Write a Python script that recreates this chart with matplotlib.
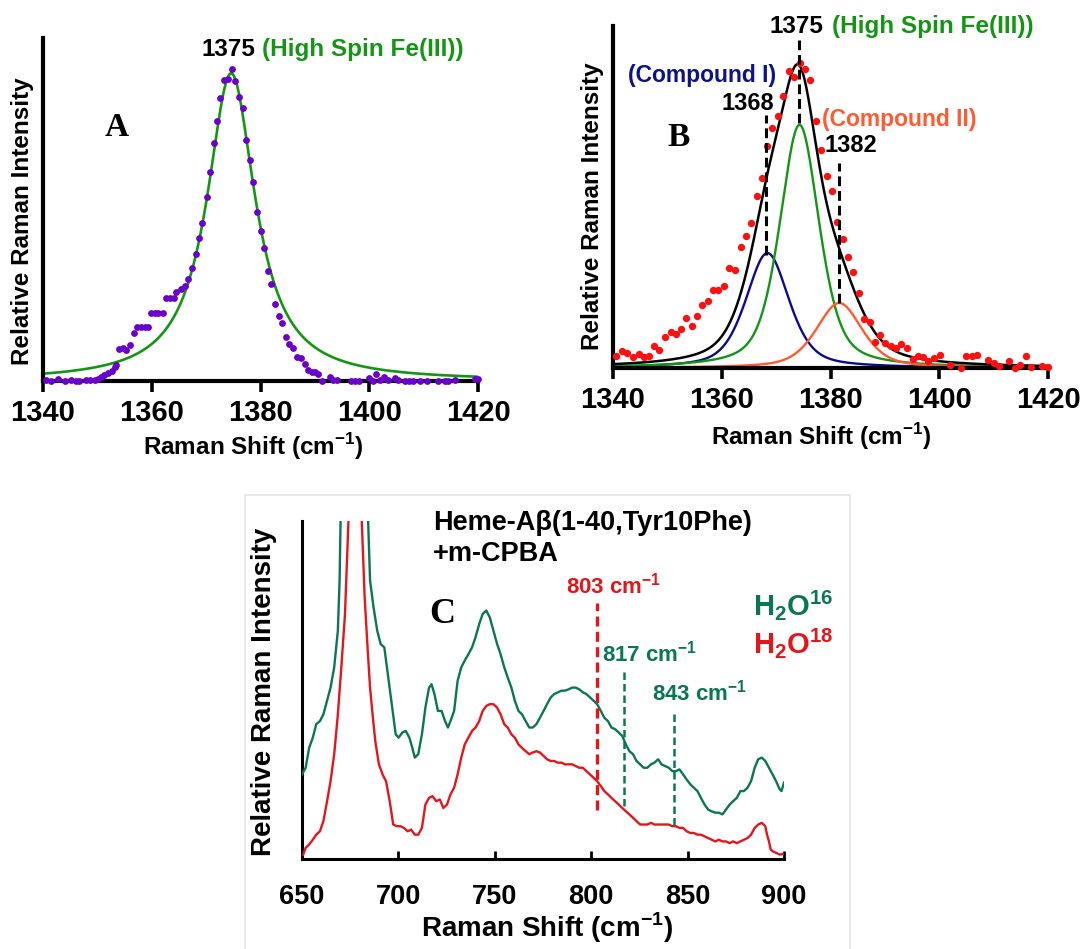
import matplotlib
matplotlib.use('Agg')
import matplotlib.pyplot as plt
import numpy as np
from matplotlib.patches import Rectangle

plt.rcParams['font.family'] = ['Liberation Sans', 'DejaVu Sans']
plt.rcParams['font.weight'] = 'bold'
plt.rcParams['mathtext.fontset'] = 'custom'
plt.rcParams['mathtext.rm'] = 'Liberation Sans'
plt.rcParams['mathtext.bf'] = 'Liberation Sans:bold'

# ---------------- Panel A data ----------------
A_shift = [1340.6,1341.5,1342.8,1344.0,1345.2,1346.1,1346.7,1347.9,1348.6,1349.5,
           1350.1,1350.7,1351.3,1352.0,1352.6,1353.2,1353.5,1353.9,1354.7,1355.3,
           1356.0,1356.7,1357.3,1358.1,1358.7,1359.3,1359.9,1360.6,1361.2,1362.1,
           1362.7,1363.3,1364.0,1364.5,1365.3,1366.1,1366.7,1367.4,1368.1,1368.7,
           1369.3,1370.1,1370.7,1371.4,1372.0,1372.6,1373.3,1374.0,1374.7,1375.4,
           1376.0,1376.8,1377.4,1378.0,1378.7,1379.3,1380.0,1380.7,1381.3,1382.0,
           1382.6,1383.4,1384.0,1384.7,1385.3,1385.9,1386.8,1387.5,1388.2,1388.8,
           1389.4,1390.0,1390.6,1391.4,1392.8,1393.4,1394.1,1396.7,1397.4,1398.2,
           1400.0,1400.6,1401.3,1402.0,1402.7,1403.4,1404.7,1405.3,1406.6,1407.4,
           1408.1,1409.3,1410.6,1412.7,1413.9,1414.5,1415.8,1419.5,1420.0]
A_int = [.003,0,.006,0,.003,0,0,.003,.003,.003,
         .005,.012,.019,.025,.033,.044,.051,.103,.105,.099,
         .115,.153,.172,.174,.174,.174,.217,.217,.219,.219,
         .265,.265,.265,.286,.294,.304,.326,.361,.407,.459,
         .507,.588,.671,.764,.834,.906,.963,.967,1.0,.962,
         .911,.874,.772,.708,.637,.543,.481,.427,.354,.310,
         .247,.209,.187,.140,.118,.105,.078,.073,.054,.035,
         .030,.030,.021,.001,.014,.003,.003,0,0,0,
         .009,.001,.021,.003,.014,.003,.009,.003,0,0,
         0,.001,0,0,0,0,.003,.005,.005]
# Lorentzian fit (amplitude, centre, half width, lorentz fraction)
A_fit = [0.986, 1374.6, 5.4, 1.0]

# ---------------- Panel B data ----------------
B_shift = [1340.6,1341.7,1342.6,1343.7,1344.7,1345.7,1346.6,1347.6,1348.5,1349.5,
           1350.6,1351.5,1352.5,1353.5,1354.5,1355.5,1356.4,1357.4,1358.4,1359.3,
           1360.4,1361.4,1362.4,1363.5,1364.4,1365.4,1366.4,1367.4,1368.4,1369.3,
           1370.3,1371.3,1372.3,1373.3,1374.3,1375.3,1376.2,1377.3,1378.2,1379.3,
           1380.2,1381.2,1382.3,1383.2,1384.2,1385.2,1386.2,1387.2,1388.2,1389.1,
           1390.1,1391.1,1392.0,1393.0,1394.1,1395.1,1396.1,1397.1,1398.0,1399.1,
           1400.1,1402.0,1404.0,1405.0,1406.0,1407.0,1408.9,1410.0,1410.9,1412.9,
           1414.0,1414.9,1415.9,1416.9,1418.9,1420.0]
B_int = [.038,.054,.049,.036,.045,.036,.040,.070,.059,.101,
         .117,.111,.126,.162,.135,.168,.203,.219,.252,.252,
         .267,.326,.317,.392,.427,.472,.557,.618,.719,.778,
         .819,.884,.965,.946,.991,.970,.935,.803,.706,.624,
         .574,.475,.418,.359,.310,.243,.159,.150,.086,.106,
         .081,.070,.065,.078,.065,.030,.038,.036,.024,.032,
         .041,.009,.0,.038,.038,.043,.025,.016,.005,.024,
         0,.011,.038,.002,.005,.002]
# fitted components: amplitude, centre, half width, lorentz fraction
B_comp_names = ['Compound I', 'High Spin Fe(III)', 'Compound II']
B_comp_amp = [0.373, 0.789, 0.211]
B_comp_cen = [1368.4, 1374.3, 1381.6]
B_comp_hw = [4.7, 4.3, 5.0]
B_comp_eta = [0.5, 0.5, 0.5]
B_comp_colors = ['#0b0b8f', '#149614', '#ff5a32']
B_marks = [1368, 1375, 1382]

# ---------------- Panel C data ----------------
C16_shift = [650.0,651.9,653.7,655.6,657.4,659.3,661.1,663.0,664.8,666.7,668.6,669.5,670.0,671.0,683.3,684.3,
             685.3,687.1,689.0,690.8,692.7,693.6,695.5,697.3,698.6,700.1,702.0,703.8,705.7,707.2,708.5,710.3,
             712.2,714.0,715.9,717.2,718.7,720.5,722.4,724.2,725.7,727.0,728.9,
             730.7,732.6,734.4,736.3,738.2,740.0,741.9,743.7,745.6,747.4,749.3,751.2,753.0,754.9,756.7,758.6,
             760.4,762.3,764.1,766.0,767.9,769.7,771.6,773.4,775.3,777.1,779.0,780.8,782.7,784.6,786.4,788.3,
             790.1,792.0,793.8,795.7,797.5,799.4,801.3,803.1,805.0,806.8,808.7,810.5,812.4,814.3,816.1,818.0,
             819.8,821.7,823.5,825.4,827.2,829.1,831.0,832.8,834.7,836.5,838.4,840.2,842.1,843.9,845.8,847.7,
             849.5,851.4,853.2,855.1,856.9,858.8,860.7,862.5,864.4,866.2,868.1,869.9,871.8,873.6,875.5,877.4,
             879.2,881.1,882.9,884.8,886.6,888.5,890.3,892.2,894.1,895.9,897.8,898.7,900.0]
C16_int = [.250,.270,.329,.359,.399,.408,.428,.468,.507,.567,.676,.824,1.0,1.6,1.6,1.0,
           .824,.745,.676,.636,.626,.587,.507,.428,.369,.359,.374,.379,.359,.329,.300,.310,
           .369,.448,.507,.517,.488,.438,.438,.408,.389,.408,.438,
           .527,.567,.587,.606,.626,.656,.695,.725,.735,.715,.676,.636,.606,.567,.537,.507,
           .468,.438,.428,.408,.389,.389,.399,.418,.438,.458,.478,.488,.493,.498,.498,.502,
           .507,.507,.502,.493,.488,.478,.468,.458,.438,.418,.408,.389,.384,.374,.364,.339,
           .319,.310,.290,.280,.270,.270,.280,.285,.295,.280,.275,.270,.260,.260,.265,.250,
           .235,.221,.211,.201,.181,.161,.146,.141,.137,.137,.132,.146,.161,.171,.181,.201,
           .201,.211,.230,.270,.295,.300,.290,.270,.250,.230,.206,.201,.226]
C18_shift = [650.6,651.9,653.7,655.6,657.4,659.3,661.1,663.0,664.8,666.7,668.6,670.4,672.3,674.1,675.0,680.2,
             681.0,682.5,684.0,685.3,686.6,688.0,689.9,691.8,693.6,695.5,697.3,699.2,701.0,702.9,704.8,706.6,
             708.5,710.3,712.2,714.0,715.9,717.7,719.6,721.5,723.3,725.2,727.0,728.9,730.7,732.6,734.4,736.3,
             738.2,740.0,741.9,743.7,745.6,747.4,749.3,751.2,753.0,754.9,756.7,758.6,760.4,762.3,764.1,766.0,
             767.9,769.7,771.6,773.4,775.3,777.1,779.0,780.8,782.7,784.6,786.4,788.3,790.1,792.0,793.8,795.7,
             797.5,799.4,801.3,803.1,805.0,806.8,808.7,810.5,812.4,814.3,816.1,818.0,819.8,821.7,823.5,825.4,
             827.2,829.1,831.0,832.8,834.7,836.5,838.4,840.2,842.1,843.9,845.8,847.7,849.5,851.4,853.2,855.1,
             856.9,858.8,860.7,862.5,864.4,866.2,868.1,869.9,871.8,873.6,875.5,877.4,879.2,881.1,882.9,884.8,
             886.6,888.5,890.3,891.2,892.2,893.1,894.1,895.9,897.8,899.6]
C18_int = [.013,.033,.043,.057,.072,.082,.112,.171,.230,.310,.428,.567,.725,1.0,1.6,1.6,
           1.0,.774,.626,.507,.428,.349,.280,.250,.230,.171,.102,.097,.097,.092,.082,.087,
           .072,.072,.092,.161,.181,.186,.171,.176,.151,.161,.191,.211,.250,.300,.339,.359,
           .379,.389,.408,.438,.453,.458,.458,.448,.428,.399,.389,.369,.359,.339,.329,.319,
           .310,.315,.319,.315,.305,.295,.290,.290,.285,.285,.280,.280,.280,.275,.270,.270,
           .260,.250,.240,.230,.216,.201,.191,.181,.171,.161,.151,.141,.132,.122,.112,.102,
           .102,.102,.107,.102,.102,.102,.102,.102,.097,.097,.092,.092,.082,.077,.077,.072,
           .072,.067,.062,.057,.052,.057,.052,.052,.047,.052,.047,.052,.057,.062,.072,.092,
           .102,.107,.097,.072,.052,.028,.023,.018,.013,.015]
C_marks = [803, 817, 843]
C_mark_ranges = [(.145, .756), (.157, .562), (.102, .433)]

GREEN = '#149614'
TEAL = '#0a7656'
RED_C = '#e3161c'


def pvoigt(x, amp, cen, hw, eta):
    d = (x - cen) / hw
    return amp * (eta / (1 + d ** 2) + (1 - eta) * np.exp(-np.log(2) * d ** 2))


W, H = 1086, 949
fig = plt.figure(figsize=(W / 100, H / 100), dpi=100)


def axrect(l, t, r, b):
    return [l / W, 1 - b / H, (r - l) / W, (b - t) / H]


def ftext(x, y, s, **kw):
    return fig.text(x / W, 1 - y / H, s, **kw)


axA = fig.add_axes(axrect(43, 38, 478, 381))
axB = fig.add_axes(axrect(613, 26, 1048, 368))
axC = fig.add_axes(axrect(302, 521, 784, 859))

for ax in (axA, axB):
    ax.set_xlim(1340, 1420)
    ax.spines[['top', 'right']].set_visible(False)
    for s in ('left', 'bottom'):
        ax.spines[s].set_linewidth(3)
    ax.set_yticks([])
    ax.set_xticks([1340, 1360, 1380, 1400, 1420])
    ax.tick_params(axis='x', direction='out', length=8, width=2.6, labelsize=21, pad=5)
axA.set_ylim(0, 1.099)
axB.set_ylim(0, 1.11)

# ---- Panel A ----
xs = np.linspace(1340, 1420, 600)
axA.plot(xs, pvoigt(xs, *A_fit), color=GREEN, lw=1.9, zorder=2)
axA.scatter(A_shift, A_int, s=24, color='#6a00cc', zorder=4, clip_on=False, linewidths=0)
axA.text(1379.0, 1.061, '1375', ha='right', va='center', fontsize=17.5, color='black', clip_on=False)
axA.text(1380.3, 1.061, '(High Spin Fe(III))', ha='left', va='center', fontsize=17.5, color=GREEN, clip_on=False)
axA.text(1353.6, 0.811, 'A', ha='center', va='center', fontsize=24, family='Liberation Serif', weight='bold')

# ---- Panel B ----
total = np.zeros_like(xs)
for a, c, w, e, col in zip(B_comp_amp, B_comp_cen, B_comp_hw, B_comp_eta, B_comp_colors):
    comp = pvoigt(xs, a, c, w, e)
    total += comp
    axB.plot(xs, comp, color=col, lw=1.7, zorder=2)
axB.plot(xs, total, color='black', lw=1.8, zorder=2)
axB.scatter(B_shift, B_int, s=28, color='#ff1010', zorder=4, clip_on=False, linewidths=0)
dash_kw = dict(color='black', lw=2.2, dashes=(3.2, 1.6), zorder=5)
axB.plot([1368.1, 1368.1], [0.367, 0.821], **dash_kw)
axB.plot([1374.2, 1374.2], [0.795, 1.065], **dash_kw)
axB.plot([1381.6, 1381.6], [0.211, 0.666], **dash_kw)
axB.text(1378.6, 1.107, '1375', ha='right', va='center', fontsize=17.5, color='black', clip_on=False)
axB.text(1380.3, 1.107, '(High Spin Fe(III))', ha='left', va='center', fontsize=17.5, color=GREEN, clip_on=False)
axB.text(1356.4, 0.948, '(Compound I)', ha='center', va='center', fontsize=16.5, color='#0d128c')
axB.text(1364.8, 0.860, '1368', ha='center', va='center', fontsize=17, color='black')
axB.text(1378.4, 0.805, '(Compound II)', ha='left', va='center', fontsize=16.5, color='#ff5a32')
axB.text(1383.8, 0.721, '1382', ha='center', va='center', fontsize=17, color='black')
axB.text(1352.0, 0.747, 'B', ha='center', va='center', fontsize=24, family='Liberation Serif', weight='bold')

# axis labels A/B
ftext(23, 221, 'Relative Raman Intensity', rotation=90, ha='center', va='center', fontsize=17.5)
ftext(592, 206, 'Relative Raman Intensity', rotation=90, ha='center', va='center', fontsize=17.5)
ftext(253, 447, r'Raman Shift (cm$^{\mathbf{-1}}$)', ha='center', va='center', fontsize=17.5)
ftext(821, 437, r'Raman Shift (cm$^{\mathbf{-1}}$)', ha='center', va='center', fontsize=17.5)

# ---- Panel C ----
fig.add_artist(Rectangle((245 / W, -0.01), (850 - 245) / W, (949 - 495) / H + 0.01,
                         transform=fig.transFigure, fill=False, ec='#e4e4e4', lw=1.2))
axC.set_xlim(650, 900)
axC.set_ylim(0, 1.0)
axC.spines[['top', 'right']].set_visible(False)
for s in ('left', 'bottom'):
    axC.spines[s].set_linewidth(2.2)
axC.set_yticks([])
axC.set_xticks([650, 700, 750, 800, 850, 900])
axC.tick_params(axis='x', direction='in', length=6, width=2, labelsize=19.5, pad=18)
axC.plot(C16_shift, C16_int, color=TEAL, lw=1.7, zorder=3)
axC.plot(C18_shift, C18_int, color=RED_C, lw=1.7, zorder=3)
axC.plot([C_marks[0]] * 2, C_mark_ranges[0], color=RED_C, lw=2.4, dashes=(3, 1.6), zorder=4)
axC.plot([C_marks[1]] * 2, C_mark_ranges[1], color=TEAL, lw=1.8, dashes=(3, 1.6), zorder=4)
axC.plot([C_marks[2]] * 2, C_mark_ranges[2], color=TEAL, lw=1.8, dashes=(3, 1.6), zorder=4)
axC.text(811.8, 0.808, r'803 cm$^{\mathbf{-1}}$', ha='center', va='center', fontsize=16, color=RED_C)
axC.text(830.0, 0.609, r'817 cm$^{\mathbf{-1}}$', ha='center', va='center', fontsize=16, color=TEAL)
axC.text(856.4, 0.491, r'843 cm$^{\mathbf{-1}}$', ha='center', va='center', fontsize=16, color=TEAL)
axC.text(883.9, 0.751, r'H$_{\mathbf{2}}$O$^{\mathbf{16}}$', ha='left', va='center', fontsize=21, color=TEAL, clip_on=False)
axC.text(883.9, 0.639, r'H$_{\mathbf{2}}$O$^{\mathbf{18}}$', ha='left', va='center', fontsize=21, color=RED_C, clip_on=False)
axC.text(722.6, 0.722, 'C', ha='center', va='center', fontsize=26, family='Liberation Serif', weight='bold')
axC.text(718.0, 0.994, 'Heme-A\u03b2(1-40,Tyr10Phe)', ha='left', va='center', fontsize=19.5, clip_on=False)
axC.text(718.0, 0.902, '+m-CPBA', ha='left', va='center', fontsize=19.5)
ftext(264, 692, 'Relative Raman Intensity', rotation=90, ha='center', va='center', fontsize=20)
ftext(547, 928, r'Raman Shift (cm$^{\mathbf{-1}}$)', ha='center', va='center', fontsize=20)

fig.savefig('out.png', dpi=100)
